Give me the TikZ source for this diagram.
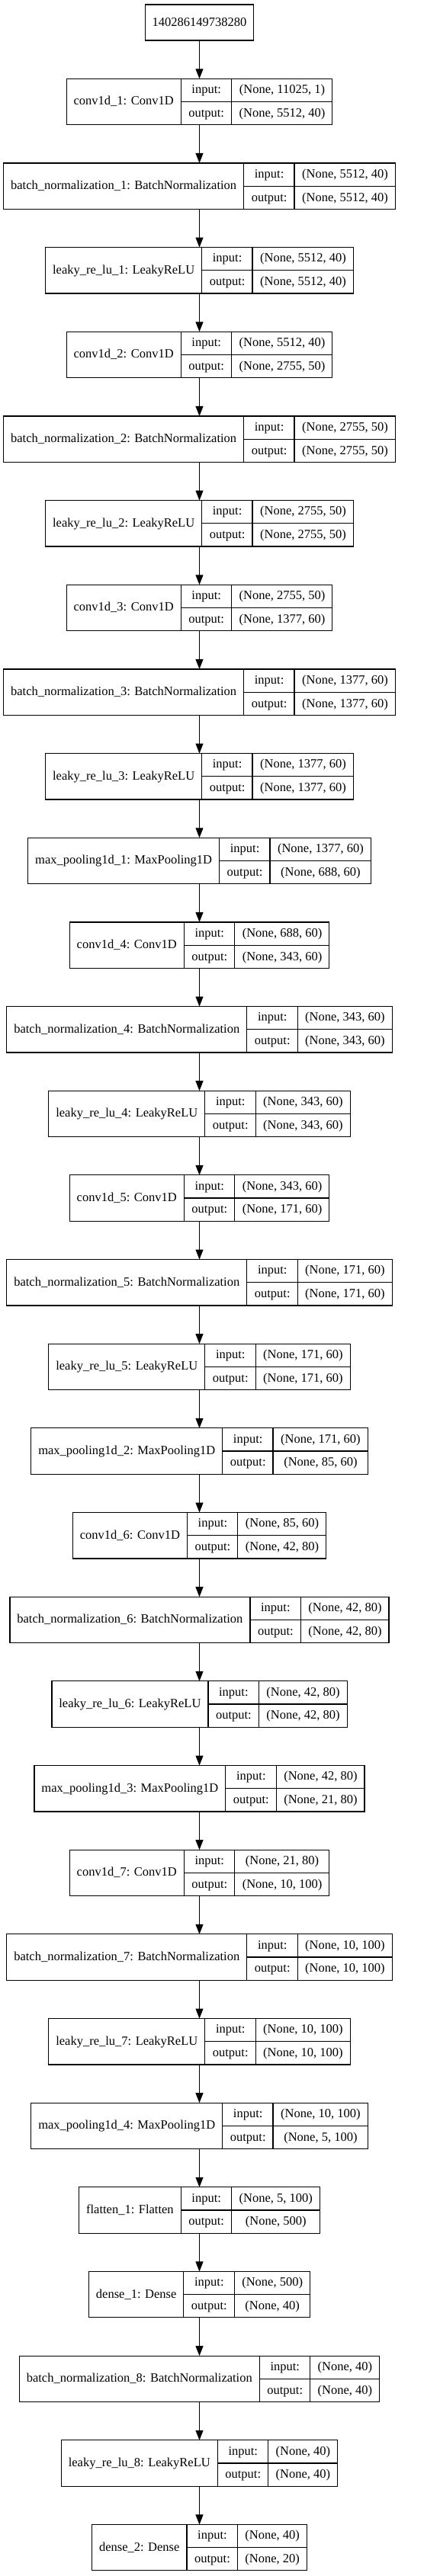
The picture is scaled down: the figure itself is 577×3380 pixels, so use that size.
\documentclass[tikz,border=0pt]{standalone}
\usepackage{fontspec}
\setmainfont{Liberation Serif}
\usepackage{tikz}
\usetikzlibrary{calc, arrows.meta}
\setlength{\arrayrulewidth}{1.2pt}
\newcommand{\kfont}{\fontsize{16.5pt}{19pt}\selectfont}
\newcommand{\kstrut}{\rule[-10.3pt]{0pt}{29.6pt}}
\tikzstyle{inbox}  = [rectangle, draw=black, line width=1.2pt, inner xsep=9.5pt, inner ysep=0pt, minimum height=47pt, font=\kfont]
\tikzstyle{layer}  = [rectangle, draw=black, line width=1.2pt, inner sep=0pt, outer sep=0pt, font=\kfont]
\tikzstyle{arrow}  = [line width=1pt, -{Triangle[length=13pt, width=10pt]}]
% two stacked cells: upper and lower text
\newcommand{\kcells}[2]{\begin{tabular}{@{\hspace{9.5pt}}c@{\hspace{9.5pt}}}\kstrut#1\\\hline\kstrut#2\end{tabular}}
% one keras layer: name, label, input shape, output shape, row
\newcommand{\kerasnode}[5]{%
  \pgfmathsetmacro\ky{-(103+(#5-1)*110.66+30.5)}%
  \node[layer] (#1) at (261.5,\ky) {\begin{tabular}{@{\hspace{9.5pt}}c@{\hspace{9.5pt}}|@{}c@{}|@{}c@{}}#2 & \kcells{input:}{output:} & \kcells{#3}{#4}\end{tabular}};
}
\begin{document}
\begin{tikzpicture}[x=1pt, y=1pt]
    \useasboundingbox (0,0) rectangle (577,-3380);
    \node (input) [inbox] at (261.5,-29.5) {140286149738280};

    \kerasnode{conv1}{conv1d\_1: Conv1D}{(None, 11025, 1)}{(None, 5512, 40)}{1}
    \kerasnode{bn1}{batch\_normalization\_1: BatchNormalization}{(None, 5512, 40)}{(None, 5512, 40)}{2}
    \kerasnode{lrelu1}{leaky\_re\_lu\_1: LeakyReLU}{(None, 5512, 40)}{(None, 5512, 40)}{3}
    \kerasnode{conv2}{conv1d\_2: Conv1D}{(None, 5512, 40)}{(None, 2755, 50)}{4}
    \kerasnode{bn2}{batch\_normalization\_2: BatchNormalization}{(None, 2755, 50)}{(None, 2755, 50)}{5}
    \kerasnode{lrelu2}{leaky\_re\_lu\_2: LeakyReLU}{(None, 2755, 50)}{(None, 2755, 50)}{6}
    \kerasnode{conv3}{conv1d\_3: Conv1D}{(None, 2755, 50)}{(None, 1377, 60)}{7}
    \kerasnode{bn3}{batch\_normalization\_3: BatchNormalization}{(None, 1377, 60)}{(None, 1377, 60)}{8}
    \kerasnode{lrelu3}{leaky\_re\_lu\_3: LeakyReLU}{(None, 1377, 60)}{(None, 1377, 60)}{9}
    \kerasnode{pool1}{max\_pooling1d\_1: MaxPooling1D}{(None, 1377, 60)}{(None, 688, 60)}{10}
    \kerasnode{conv4}{conv1d\_4: Conv1D}{(None, 688, 60)}{(None, 343, 60)}{11}
    \kerasnode{bn4}{batch\_normalization\_4: BatchNormalization}{(None, 343, 60)}{(None, 343, 60)}{12}
    \kerasnode{lrelu4}{leaky\_re\_lu\_4: LeakyReLU}{(None, 343, 60)}{(None, 343, 60)}{13}
    \kerasnode{conv5}{conv1d\_5: Conv1D}{(None, 343, 60)}{(None, 171, 60)}{14}
    \kerasnode{bn5}{batch\_normalization\_5: BatchNormalization}{(None, 171, 60)}{(None, 171, 60)}{15}
    \kerasnode{lrelu5}{leaky\_re\_lu\_5: LeakyReLU}{(None, 171, 60)}{(None, 171, 60)}{16}
    \kerasnode{pool2}{max\_pooling1d\_2: MaxPooling1D}{(None, 171, 60)}{(None, 85, 60)}{17}
    \kerasnode{conv6}{conv1d\_6: Conv1D}{(None, 85, 60)}{(None, 42, 80)}{18}
    \kerasnode{bn6}{batch\_normalization\_6: BatchNormalization}{(None, 42, 80)}{(None, 42, 80)}{19}
    \kerasnode{lrelu6}{leaky\_re\_lu\_6: LeakyReLU}{(None, 42, 80)}{(None, 42, 80)}{20}
    \kerasnode{pool3}{max\_pooling1d\_3: MaxPooling1D}{(None, 42, 80)}{(None, 21, 80)}{21}
    \kerasnode{conv7}{conv1d\_7: Conv1D}{(None, 21, 80)}{(None, 10, 100)}{22}
    \kerasnode{bn7}{batch\_normalization\_7: BatchNormalization}{(None, 10, 100)}{(None, 10, 100)}{23}
    \kerasnode{lrelu7}{leaky\_re\_lu\_7: LeakyReLU}{(None, 10, 100)}{(None, 10, 100)}{24}
    \kerasnode{pool4}{max\_pooling1d\_4: MaxPooling1D}{(None, 10, 100)}{(None, 5, 100)}{25}
    \kerasnode{flat}{flatten\_1: Flatten}{(None, 5, 100)}{(None, 500)}{26}
    \kerasnode{dense1}{dense\_1: Dense}{(None, 500)}{(None, 40)}{27}
    \kerasnode{bn8}{batch\_normalization\_8: BatchNormalization}{(None, 40)}{(None, 40)}{28}
    \kerasnode{lrelu8}{leaky\_re\_lu\_8: LeakyReLU}{(None, 40)}{(None, 40)}{29}
    \kerasnode{dense2}{dense\_2: Dense}{(None, 40)}{(None, 20)}{30}

    \draw [arrow] (input)  -- (conv1);
    \draw [arrow] (conv1)  -- (bn1);
    \draw [arrow] (bn1)    -- (lrelu1);
    \draw [arrow] (lrelu1) -- (conv2);
    \draw [arrow] (conv2)  -- (bn2);
    \draw [arrow] (bn2)    -- (lrelu2);
    \draw [arrow] (lrelu2) -- (conv3);
    \draw [arrow] (conv3)  -- (bn3);
    \draw [arrow] (bn3)    -- (lrelu3);
    \draw [arrow] (lrelu3) -- (pool1);
    \draw [arrow] (pool1)  -- (conv4);
    \draw [arrow] (conv4)  -- (bn4);
    \draw [arrow] (bn4)    -- (lrelu4);
    \draw [arrow] (lrelu4) -- (conv5);
    \draw [arrow] (conv5)  -- (bn5);
    \draw [arrow] (bn5)    -- (lrelu5);
    \draw [arrow] (lrelu5) -- (pool2);
    \draw [arrow] (pool2)  -- (conv6);
    \draw [arrow] (conv6)  -- (bn6);
    \draw [arrow] (bn6)    -- (lrelu6);
    \draw [arrow] (lrelu6) -- (pool3);
    \draw [arrow] (pool3)  -- (conv7);
    \draw [arrow] (conv7)  -- (bn7);
    \draw [arrow] (bn7)    -- (lrelu7);
    \draw [arrow] (lrelu7) -- (pool4);
    \draw [arrow] (pool4)  -- (flat);
    \draw [arrow] (flat)   -- (dense1);
    \draw [arrow] (dense1) -- (bn8);
    \draw [arrow] (bn8)    -- (lrelu8);
    \draw [arrow] (lrelu8) -- (dense2);

  \end{tikzpicture}
\end{document}
